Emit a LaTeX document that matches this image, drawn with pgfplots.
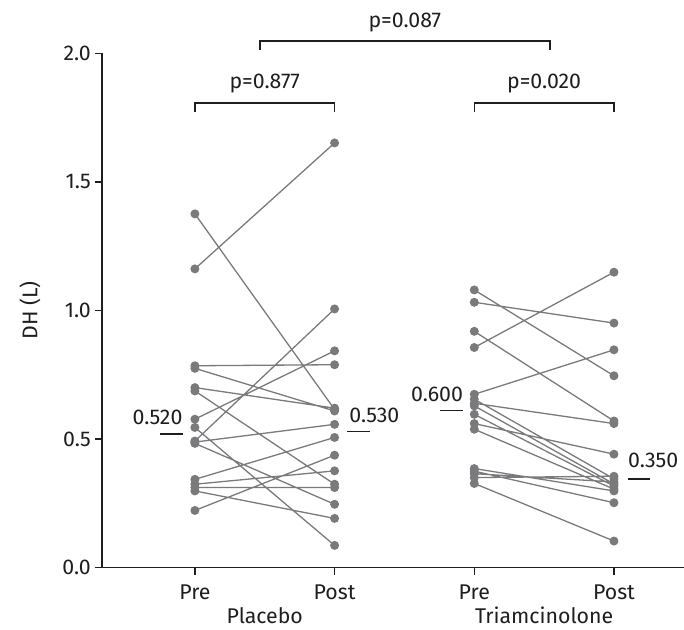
\documentclass[border=0pt]{standalone}
\usepackage{fontspec}
\setmainfont{Fira Sans}
\usepackage{pgfplots}
\pgfplotsset{compat=1.18}
\usepackage{pgfplotstable}
\definecolor{pt}{RGB}{122,122,125}
\definecolor{tx}{RGB}{30,30,30}

\pgfplotstableread{
x y
1 1.162
2 1.652
nan nan
1 1.376
2 0.615
nan nan
1 0.785
2 0.789
nan nan
1 0.775
2 0.609
nan nan
1 0.700
2 0.620
nan nan
1 0.687
2 0.324
nan nan
1 0.577
2 0.843
nan nan
1 0.545
2 0.086
nan nan
1 0.492
2 1.006
nan nan
1 0.488
2 0.557
nan nan
1 0.483
2 0.246
nan nan
1 0.343
2 0.506
nan nan
1 0.324
2 0.376
nan nan
1 0.311
2 0.311
nan nan
1 0.298
2 0.191
nan nan
1 0.222
2 0.437
}\placebo

\pgfplotstableread{
x y
3 1.080
4 0.746
nan nan
3 1.032
4 0.951
nan nan
3 0.919
4 0.570
nan nan
3 0.856
4 1.149
nan nan
3 0.674
4 0.847
nan nan
3 0.655
4 0.345
nan nan
3 0.639
4 0.560
nan nan
3 0.629
4 0.325
nan nan
3 0.596
4 0.317
nan nan
3 0.560
4 0.441
nan nan
3 0.538
4 0.305
nan nan
3 0.385
4 0.298
nan nan
3 0.375
4 0.252
nan nan
3 0.365
4 0.333
nan nan
3 0.350
4 0.355
nan nan
3 0.327
4 0.103
}\triam

\begin{document}
\begin{tikzpicture}[font=\fontsize{21.3}{25}\selectfont, text=tx]
\useasboundingbox (-102pt,-61.5pt) rectangle (582pt,567.5pt);
\begin{axis}[
  at={(0pt,0pt)}, anchor=south west,
  scale only axis, width=581.8pt, height=514pt,
  xmin=0.335, xmax=4.5, ymin=0, ymax=2,
  axis lines*=left,
  axis line style={line width=1.4pt, tx},
  clip=false,
  xtick={1,2,3,4}, xticklabels={Pre,Post,Pre,Post},
  ytick={0,0.5,1,1.5,2},
  tick align=outside, major tick length=7pt,
  tick style={line width=1.4pt, tx},
  tick label style={font=\fontsize{21.3}{25}\selectfont},
  yticklabel style={/pgf/number format/fixed, /pgf/number format/fixed zerofill, /pgf/number format/precision=1, /pgf/number format/assume math mode=true, inner sep=0pt, xshift=-4pt},
  xticklabel style={inner sep=0pt, yshift=-10pt},
  ylabel={DH (L)},
  every axis y label/.style={at={(axis description cs:-0.124,0.5)}, rotate=90, anchor=center, font=\fontsize{21.3}{25}\selectfont},
  unbounded coords=jump,
]
\addplot[pt, line width=1.3pt, mark=*, mark size=3.8pt, mark options={fill=pt, draw=pt}] table[x=x, y=y] {\placebo};
\addplot[pt, line width=1.3pt, mark=*, mark size=3.8pt, mark options={fill=pt, draw=pt}] table[x=x, y=y] {\triam};

% medians
\draw[tx, line width=1.4pt] (axis cs:0.75,0.52) -- (axis cs:0.912,0.52);
\node[anchor=base east, inner sep=0pt, yshift=9pt] at (axis cs:0.912,0.52) {0.520};
\draw[tx, line width=1.4pt] (axis cs:2.09,0.53) -- (axis cs:2.255,0.53);
\node[anchor=base west, inner sep=0pt, yshift=9pt, xshift=2pt] at (axis cs:2.09,0.53) {0.530};
\draw[tx, line width=1.4pt] (axis cs:2.755,0.61) -- (axis cs:2.92,0.61);
\node[anchor=base east, inner sep=0pt, yshift=9pt] at (axis cs:2.92,0.61) {0.600};
\draw[tx, line width=1.4pt] (axis cs:4.10,0.345) -- (axis cs:4.26,0.345);
\node[anchor=base west, inner sep=0pt, yshift=11pt] at (axis cs:4.10,0.345) {0.350};

% brackets
\draw[tx, line width=1.4pt] (axis cs:1,1.772) -- (axis cs:1,1.807) -- (axis cs:2,1.807) -- (axis cs:2,1.772);
\node[anchor=base, inner sep=0pt] at (axis cs:1.5,1.862) {p=0.877};
\draw[tx, line width=1.4pt] (axis cs:3,1.772) -- (axis cs:3,1.807) -- (axis cs:4,1.807) -- (axis cs:4,1.772);
\node[anchor=base, inner sep=0pt] at (axis cs:3.5,1.862) {p=0.020};
\draw[tx, line width=1.4pt] (axis cs:1.465,2.014) -- (axis cs:1.465,2.049) -- (axis cs:3.541,2.049) -- (axis cs:3.541,2.014);
\node[anchor=base, inner sep=0pt] at (axis cs:2.503,2.103) {p=0.087};

% group labels
\node[anchor=base, inner sep=0pt] at (axis cs:1.5,-0.218) {Placebo};
\node[anchor=base, inner sep=0pt] at (axis cs:3.5,-0.218) {Triamcinolone};
\end{axis}
\end{tikzpicture}
\end{document}
